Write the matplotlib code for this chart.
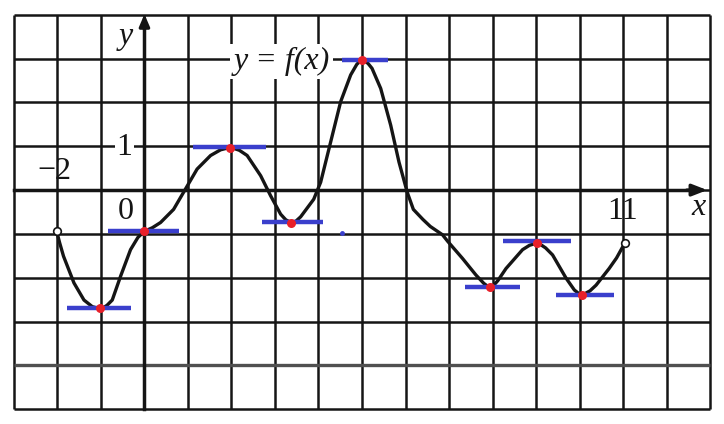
import matplotlib
matplotlib.use("Agg")
import matplotlib.pyplot as plt

# graph of y = f(x) (1 cell = 1 unit)
CURVE_X = [-2.02, -1.95, -1.86, -1.62, -1.39, -1.20, -1.10, -1.03, -0.95, -0.86,
           -0.74, -0.55, -0.32, -0.15, 0.00, 0.18, 0.37, 0.67, 0.94, 1.21,
           1.52, 1.75, 1.87, 1.96, 2.06, 2.18, 2.36, 2.67, 2.90, 3.13,
           3.25, 3.37, 3.48, 3.59, 3.89, 4.05, 4.28, 4.51, 4.74, 4.88,
           4.95, 5.00, 5.06, 5.14, 5.23, 5.43, 5.66, 5.85, 6.04, 6.18,
           6.40, 6.57, 6.85, 6.97, 7.31, 7.62, 7.80, 7.88, 7.94, 8.02,
           8.12, 8.31, 8.69, 8.85, 8.95, 9.02, 9.10, 9.22, 9.38, 9.69,
           9.88, 9.98, 10.05, 10.13, 10.24, 10.38, 10.68, 10.85, 11.04]
CURVE_Y = [-0.93, -1.20, -1.51, -2.12, -2.51, -2.66, -2.69, -2.70, -2.69, -2.63,
           -2.51, -1.97, -1.36, -1.08, -0.94, -0.86, -0.74, -0.44, 0.02, 0.48,
           0.79, 0.92, 0.95, 0.96, 0.95, 0.91, 0.79, 0.33, -0.13, -0.55,
           -0.68, -0.74, -0.71, -0.61, -0.21, 0.18, 1.10, 2.02, 2.63, 2.87,
           2.94, 2.97, 2.95, 2.89, 2.78, 2.32, 1.48, 0.64, -0.05, -0.44,
           -0.67, -0.83, -1.02, -1.17, -1.56, -1.94, -2.13, -2.19, -2.21, -2.18,
           -2.07, -1.79, -1.36, -1.26, -1.23, -1.22, -1.24, -1.32, -1.48, -2.01,
           -2.28, -2.36, -2.38, -2.36, -2.30, -2.17, -1.79, -1.55, -1.21]

# points with horizontal tangent (red dots) and the blue tangent pieces
EXT_X = [-1.03, 0.00, 1.96, 3.37, 5.00, 7.94, 9.02, 10.05]
EXT_Y = [-2.70, -0.94, 0.97, -0.75, 2.98, -2.21, -1.21, -2.39]
TAN_L = [-1.79, -0.84, 1.12, 2.71, 4.55, 7.37, 8.23, 9.47]
TAN_R = [-0.32, 0.79, 2.80, 4.10, 5.59, 8.63, 9.80, 10.80]
TAN_Y = [-2.70, -0.94, 0.99, -0.73, 2.98, -2.21, -1.17, -2.40]

GRID_X = list(range(-3, 14))
GRID_Y = list(range(-5, 5))

INK = "#151515"
BLUE = "#3a3fcc"
RED = "#e8202a"
SERIF = ["Liberation Serif", "DejaVu Serif"]

fig = plt.figure(figsize=(7.24, 4.24), dpi=100)
ax = fig.add_axes([0, 0, 1, 1])
ax.set_xlim(-3.32, 13.32)
ax.set_ylim(-5.34, 4.34)
ax.axis("off")

# squared paper
ax.vlines(GRID_X, GRID_Y[0], GRID_Y[-1], color=INK, lw=1.8, zorder=1)
ax.hlines(GRID_Y, GRID_X[0], GRID_X[-1], color=INK, lw=1.8, zorder=1)
ax.hlines(-4, GRID_X[0], GRID_X[-1], color="#505050", lw=2.4, zorder=1)

# axes with arrows
ax.plot([-3, 12.6], [0, 0], color=INK, lw=2.5, zorder=2)
ax.plot([0, 0], [-5, 3.75], color=INK, lw=2.5, zorder=2)
ax.annotate("", xy=(13.0, 0), xytext=(12.4, 0),
            arrowprops=dict(arrowstyle="-|>,head_length=0.9,head_width=0.35",
                            color=INK, lw=2.4), zorder=3)
ax.annotate("", xy=(0, 4.08), xytext=(0, 3.6),
            arrowprops=dict(arrowstyle="-|>,head_length=0.7,head_width=0.3",
                            color=INK, lw=2.4), zorder=3)

# curve
ax.plot(CURVE_X, CURVE_Y, color=INK, lw=2.4, solid_joinstyle="round",
        solid_capstyle="round", zorder=4)
ax.plot([CURVE_X[0], CURVE_X[-1]], [CURVE_Y[0], CURVE_Y[-1]], "o", ms=5.5,
        mfc="white", mec=INK, mew=1.2, zorder=5)

# tangents and points
ax.hlines(TAN_Y, TAN_L, TAN_R, color=BLUE, lw=3.2, zorder=6)
ax.plot(EXT_X, EXT_Y, "o", ms=6.5, color=RED, mec="none", zorder=7)
ax.plot([4.55], [-0.98], "o", ms=3.5, color=BLUE, mec="none", zorder=7)

# labels
lab = dict(fontsize=23, family=SERIF, ha="center", va="center",
           color=INK, zorder=8)
ax.text(-0.44, 3.5, "y", style="italic", **lab)
ax.text(12.74, -0.40, "x", style="italic", **lab)
ax.text(-0.46, 0.98, "1", **lab,
        bbox=dict(boxstyle="square,pad=0.05", fc="white", ec="none"))
ax.text(-0.44, -0.48, "0", **lab)
ax.text(-2.06, 0.42, "\u22122", **lab)
ax.text(10.98, -0.48, "11", **lab)
ax.text(3.15, 2.94, "y = f(x)", style="italic", **lab,
        bbox=dict(boxstyle="square,pad=0.1", fc="white", ec="none"))

fig.savefig("out.png", dpi=100)
